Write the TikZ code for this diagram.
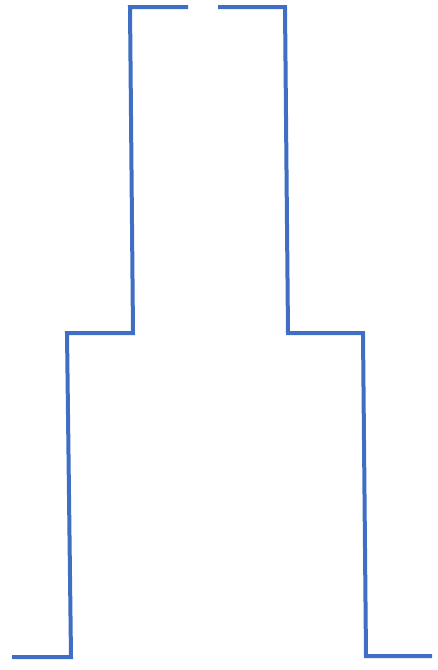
\documentclass[tikz,border=0pt]{standalone}
\definecolor{lineblue}{HTML}{3F6FC4}
\begin{document}
\begin{tikzpicture}[x=1pt,y=-1pt, outline/.style={draw=lineblue,line width=4pt,line join=miter}]
\useasboundingbox (0,0) rectangle (438,670);
\draw[outline] (12,657) -- (71,657) -- (67,333) -- (133,333) -- (130,7) -- (188,7);
\draw[outline] (218,7) -- (285,7) -- (288,333) -- (363,333) -- (366,656) -- (432,656);
\end{tikzpicture}
\end{document}
